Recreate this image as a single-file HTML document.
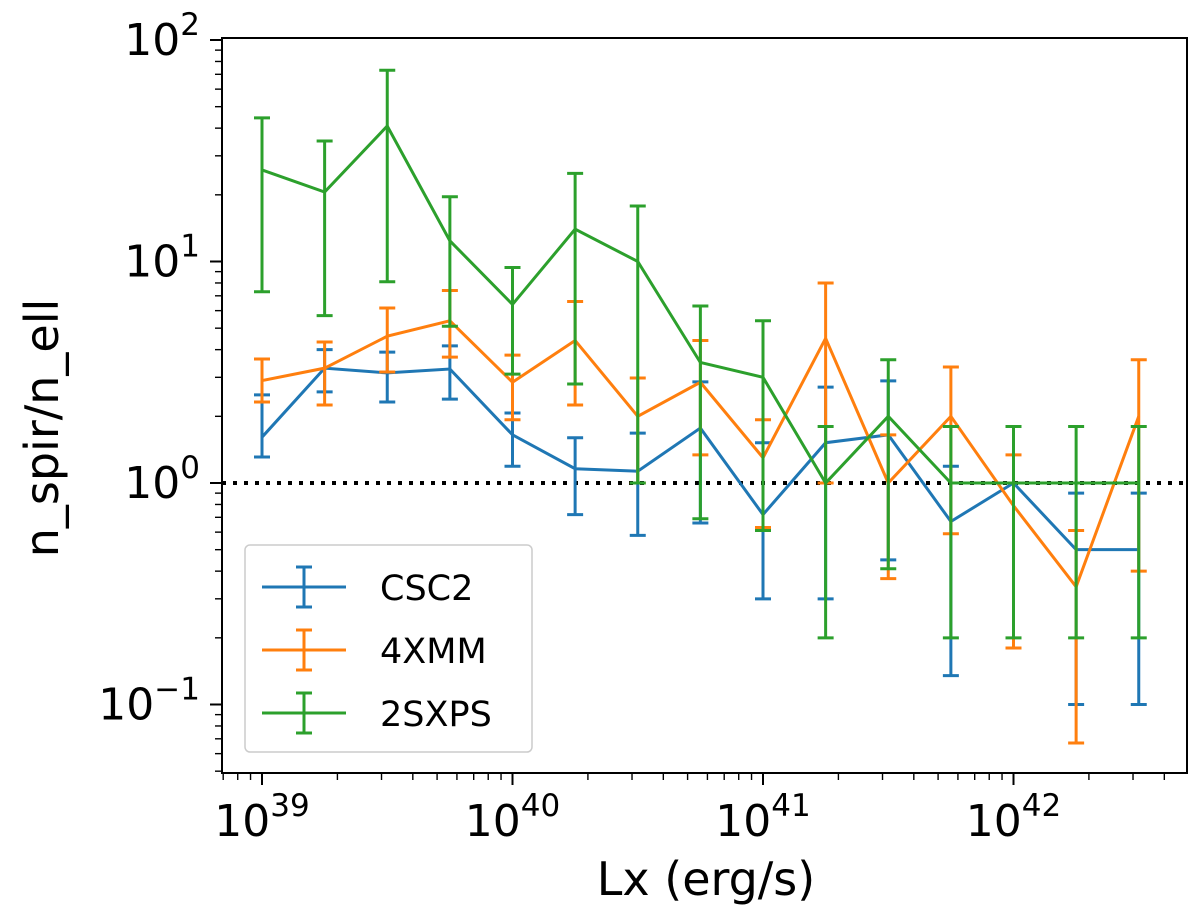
<!DOCTYPE html>
<html><head><meta charset="utf-8"><style>
body{margin:0;background:#fff}
svg text{font-family:"DejaVu Sans","Liberation Sans",sans-serif;fill:#000}
</style></head><body>
<svg id="chart" width="1200" height="913"></svg>
<script>
const xExp=[39,39.25,39.5,39.75,40,40.25,40.5,40.75,41,41.25,41.5,41.75,42,42.25,42.5];
const seriesNames=["CSC2","4XMM","2SXPS"];
const csc2Val=[1.61,3.3,3.14,3.27,1.65,1.16,1.13,1.77,0.72,1.52,1.65,0.67,1.0,0.5,0.5];
const csc2Hi=[2.5,4.0,3.9,4.16,2.07,1.6,1.68,2.86,1.52,2.71,2.89,1.19,1.0,0.9,0.9];
const csc2Lo=[1.31,2.58,2.32,2.39,1.19,0.72,0.58,0.66,0.30,0.30,0.45,0.135,1.0,0.1,0.1];
const xmmVal=[2.9,3.3,4.6,5.4,2.85,4.4,2.0,2.85,1.3,4.5,1.0,2.0,0.79,0.34,2.0];
const xmmHi=[3.63,4.33,6.17,7.4,3.78,6.6,2.98,4.4,1.93,8.0,1.65,3.34,1.34,0.61,3.6];
const xmmLo=[2.32,2.25,3.17,3.7,1.93,2.25,1.0,1.34,0.63,1.0,0.37,0.59,0.18,0.067,0.4];
const sxpsVal=[25.9,20.6,40.9,12.4,6.4,14.0,10.0,3.5,3.0,1.0,2.0,1.0,1.0,1.0,1.0];
const sxpsHi=[44.5,35,73,19.6,9.4,25,17.8,6.3,5.4,1.8,3.6,1.8,1.8,1.8,1.8];
const sxpsLo=[7.3,5.7,8.1,5.1,3.1,2.8,1.0,0.69,0.61,0.2,0.41,0.2,0.2,0.2,0.2];
const xTicks=[39,40,41,42];
const yTicks=[-1,0,1,2];

const NS="http://www.w3.org/2000/svg";
const svg=document.getElementById('chart');
const L=222,R=1187,T=38,B=773;
const X=e=>262+(e-39)*250.5;
const Y=v=>483-Math.log10(v)*221.5;
function mk(tag,attrs,parent){const el=document.createElementNS(NS,tag);for(const k in attrs)el.setAttribute(k,attrs[k]);(parent||svg).appendChild(el);return el;}

for(let d=38;d<=42;d++)for(let m=1;m<=9;m++){const e=d+Math.log10(m);const x=X(e);if(x<L||x>R)continue;
 const t=mk('line',{x1:x,x2:x,y1:B,y2:B+(m===1?12:7),stroke:'#000','stroke-width':m===1?2:1.4});
 
 }
for(let d=-2;d<=2;d++)for(let m=1;m<=9;m++){const y=Y(m*Math.pow(10,d));if(y<T||y>B)continue;
 const t=mk('line',{x1:L-(m===1?12:7),x2:L,y1:y,y2:y,stroke:'#000','stroke-width':m===1?2:1.4});
 
 }
xTicks.forEach(e=>{const t=mk('text',{x:X(e),y:836,'font-size':44,'text-anchor':'middle'});
 
 
 t.innerHTML='10<tspan dy="-20" font-size="31">'+e+'</tspan>';});
yTicks.forEach(e=>{const t=mk('text',{x:200,y:Y(Math.pow(10,e))+15,'font-size':44,'text-anchor':'end'});
 
 
 t.innerHTML='10<tspan dy="-20" font-size="31">'+(e<0?'\u2212'+(-e):e)+'</tspan>';});

const ref=mk('line',{x1:L,x2:R,y1:Y(1),y2:Y(1),stroke:'#000','stroke-width':4,'stroke-dasharray':'4,7'});



const series=[[csc2Val,csc2Hi,csc2Lo,'#1f77b4'],[xmmVal,xmmHi,xmmLo,'#ff7f0e'],[sxpsVal,sxpsHi,sxpsLo,'#2ca02c']];
series.forEach((s,i)=>{
 const g=mk('g',{});
 
 
 xExp.forEach((e,j)=>{const x=X(e);
  const b=mk('path',{d:`M${x},${Y(s[1][j])}V${Y(s[2][j])}M${x-8},${Y(s[1][j])}h16M${x-8},${Y(s[2][j])}h16`,stroke:s[3],'stroke-width':3,fill:'none'},g);
  
  });
 const p=mk('polyline',{points:xExp.map((e,j)=>X(e)+','+Y(s[0][j])).join(' '),stroke:s[3],'stroke-width':3,fill:'none'},g);
 
 
});

const frame=mk('rect',{x:L,y:T,width:R-L,height:B-T,fill:'none',stroke:'#000','stroke-width':2});



const lg=mk('g',{});


const lb=mk('rect',{x:245,y:545,width:287,height:207,rx:5,fill:'#fff',stroke:'#ccc','stroke-width':1.5},lg);


seriesNames.forEach((n,i)=>{const y=587+i*63;const c=series[i][3];
 const m=mk('path',{d:`M262,${y}h84M304,${y-20}V${y+20}M296,${y-20}h16M296,${y+20}h16`,stroke:c,'stroke-width':3,fill:'none'},lg);
 
 
 const t=mk('text',{x:380,y:y+13,'font-size':35},lg);t.textContent=n;
 
 });

const xl=mk('text',{x:706,y:895,'font-size':46,'text-anchor':'middle'});xl.textContent='Lx (erg/s)';


const yl=mk('text',{x:58,y:428,'font-size':46,'text-anchor':'middle',transform:'rotate(-90 58 428)'});yl.textContent='n_spir/n_ell';


</script>
</body></html>
